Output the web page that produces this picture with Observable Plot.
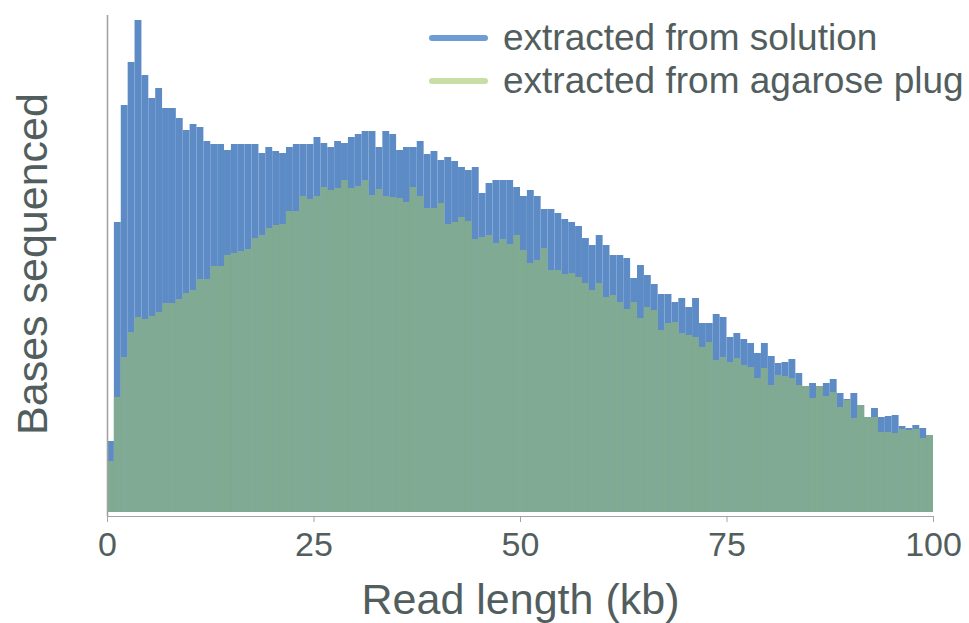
<!DOCTYPE html>
<html>
<head>
<meta charset="utf-8">
<script src="https://cdn.jsdelivr.net/npm/d3@7"></script>
<script src="https://cdn.jsdelivr.net/npm/@observablehq/plot@0.6"></script>
<style>
  html, body { margin: 0; padding: 0; background: #ffffff; }
  #chart { width: 969px; height: 623px; }
</style>
</head>
<body>
<div id="chart"></div>
<script>
// Histogram: 120 bins spanning 0–100 kb (relative bases sequenced, arbitrary units)
const binCount = 120;
const xMin = 0;
const xMax = 100;
const xTicks = [0, 25, 50, 75, 100];

const seriesNames = ["extracted from solution", "extracted from agarose plug"];

const solution = [
  71, 290, 407, 450, 492, 437, 414, 424, 404, 404,
  394, 382, 388, 385, 371, 368, 368, 362, 368, 368,
  368, 368, 359, 365, 361, 359, 365, 368, 368, 368,
  375, 369, 365, 371, 369, 375, 378, 381, 381, 365,
  381, 378, 362, 365, 365, 371, 358, 361, 352, 355,
  351, 345, 342, 345, 319, 329, 332, 332, 332, 325,
  316, 322, 316, 303, 303, 299, 293, 290, 286, 274,
  267, 277, 267, 257, 257, 254, 234, 247, 237, 228,
  218, 218, 210, 214, 205, 214, 189, 189, 198, 195,
  175, 179, 173, 169, 159, 169, 156, 149, 150, 153,
  139, 126, 129, 126, 129, 133, 119, 113, 119, 107,
  95, 104, 95, 96, 97, 86, 84, 87, 84, 77
];

const agarose = [
  51, 115, 155, 180, 195, 193, 196, 200, 209, 209,
  213, 219, 222, 233, 233, 246, 246, 257, 259, 261,
  263, 274, 277, 284, 287, 288, 301, 301, 316, 313,
  316, 325, 322, 324, 332, 324, 326, 332, 317, 323,
  316, 315, 314, 310, 325, 316, 304, 304, 309, 288,
  290, 295, 291, 273, 275, 277, 269, 273, 268, 277,
  262, 249, 252, 264, 242, 242, 238, 239, 235, 229,
  222, 229, 215, 217, 210, 203, 210, 194, 205, 202,
  182, 189, 190, 179, 177, 175, 165, 170, 152, 155,
  150, 154, 147, 145, 134, 144, 127, 137, 136, 134,
  127, 126, 114, 126, 116, 120, 105, 112, 94, 107,
  95, 95, 80, 80, 79, 83, 82, 83, 74, 77
];

const colors = {
  solutionBar: "#5d8bc5",
  agaroseBar: "#80aa91",
  solutionLegend: "#6e9cd3",
  agaroseLegend: "#c7dfa6",
  text: "#525e5e",
  axis: "#a3a3a3"
};

const binWidth = (xMax - xMin) / binCount;
const toBins = (arr) => arr.map((v, i) => ({
  x1: xMin + i * binWidth,
  x2: xMin + (i + 1) * binWidth,
  value: v
}));

const font = "'Liberation Sans', Arial, Helvetica, sans-serif";

const chart = Plot.plot({
  width: 969,
  height: 623,
  marginLeft: 107,
  marginRight: 36,
  marginTop: 15,
  marginBottom: 111,
  style: { fontFamily: font, background: "#ffffff", overflow: "visible" },
  x: { domain: [xMin, xMax] },
  y: { domain: [0, 497], axis: null },
  marks: [
    Plot.rectY(toBins(solution), { x1: "x1", x2: "x2", y: "value", fill: colors.solutionBar }),
    Plot.rectY(toBins(agarose), { x1: "x1", x2: "x2", y: "value", fill: colors.agaroseBar }),
    Plot.ruleX([0], { stroke: colors.axis, strokeWidth: 1.6, insetBottom: -4 }),
    Plot.ruleY([0], { stroke: colors.axis, strokeWidth: 1.2, dy: 4 }),
    Plot.axisX({
      ticks: xTicks,
      tickSize: 6,
      tickPadding: 9,
      fontSize: 34,
      stroke: colors.axis,
      color: colors.text,
      label: null,
      dy: 4
    }),
    Plot.text(["Read length (kb)"], {
      text: d => d, frameAnchor: "bottom", dy: 88, fontSize: 43,
      fill: colors.text, lineAnchor: "middle", textAnchor: "middle"
    }),
    Plot.text(["Bases sequenced"], {
      text: d => d, frameAnchor: "left", dx: -74, rotate: -90, fontSize: 43,
      fill: colors.text, lineAnchor: "middle", textAnchor: "middle"
    })
  ]
});

// Legend drawn into the same SVG (upper right, inside plot area)
const svg = d3.select(chart);
const legend = svg.append("g")
  .attr("font-family", font)
  .attr("text-anchor", "start");
const legendItems = [
  { name: seriesNames[0], color: colors.solutionLegend, y: 38 },
  { name: seriesNames[1], color: colors.agaroseLegend, y: 81 }
];
legendItems.forEach(item => {
  legend.append("line")
    .attr("x1", 432).attr("x2", 485)
    .attr("y1", item.y).attr("y2", item.y)
    .attr("stroke", item.color)
    .attr("stroke-width", 6)
    .attr("stroke-linecap", "round");
  legend.append("text")
    .attr("x", 503).attr("y", item.y + 12)
    .attr("text-anchor", "start")
    .attr("fill", colors.text)
    .attr("font-size", 37)
    .text(item.name);
});

document.getElementById("chart").appendChild(chart);
</script>
</body>
</html>
